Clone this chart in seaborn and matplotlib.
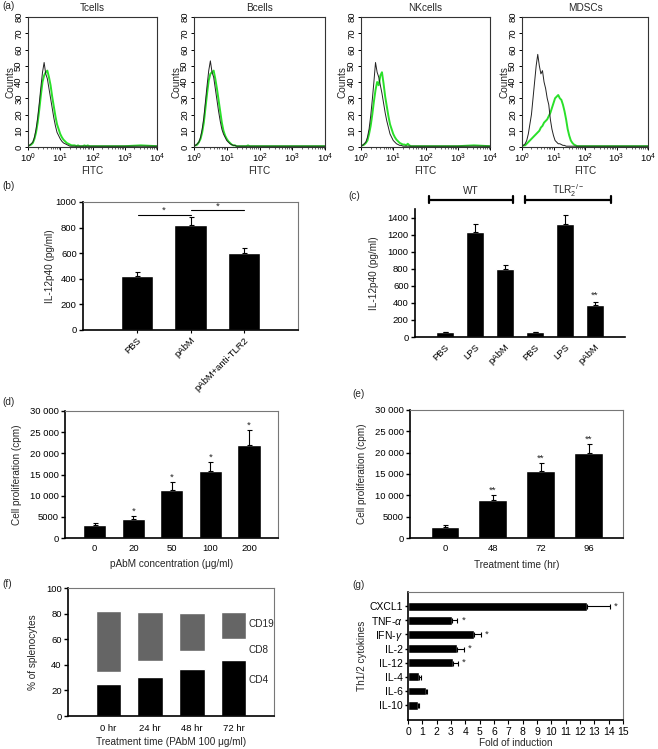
import numpy as np
import pandas as pd
import matplotlib
matplotlib.use("Agg")
import matplotlib.pyplot as plt
import seaborn as sns
from matplotlib.ticker import LogLocator, NullFormatter, FuncFormatter

sns.set_theme(style="white")
plt.rcParams["font.family"] = ["Liberation Sans", "DejaVu Sans"]
plt.rcParams["mathtext.fontset"] = "custom"
plt.rcParams["mathtext.rm"] = "Liberation Sans"
plt.rcParams["mathtext.it"] = "Liberation Sans:italic"

# ---------------- data ----------------
# (a) flow cytometry histograms: log10(FITC) grid and counts
LOG_FITC = [0.00, 0.05, 0.10, 0.15, 0.20, 0.25, 0.30, 0.35, 0.40, 0.45,
            0.50, 0.55, 0.60, 0.65, 0.70, 0.75, 0.80, 0.85, 0.90, 0.95,
            1.00, 1.05, 1.10, 1.15, 1.20, 1.25, 1.30, 1.35, 1.40, 1.45,
            1.50, 1.55, 1.60, 1.65, 1.70, 1.75, 1.80, 1.85, 1.90, 1.95,
            2.00, 2.50, 3.00, 3.50, 4.00]
T_ISO = [1, 1, 2, 3, 6, 11, 18, 27, 37, 46,
         52, 45, 42, 36, 30, 24, 18, 13, 9, 7,
         5, 3.5, 2.5, 2, 1.5, 1, 0.5, 0.5, 0.5, 0.5,
         0.5, 0.5, 0.5, 0.5, 0.5, 0.5, 0.5, 0.5, 0.5, 0.5,
         0.5, 0.5, 0.5, 0.5, 0.5]
T_AB = [1, 1, 1.5, 2.5, 5, 9, 15, 23, 32, 40,
        44, 46, 47, 43, 38, 31, 25, 19, 14, 11,
        8, 6, 4.5, 3.5, 2.5, 2, 1.5, 1, 1, 1,
        0.5, 1, 0.5, 0.5, 0.5, 1, 0.5, 1, 0.5, 0.5,
        0.5, 0.5, 0.5, 1, 0.5]
B_ISO = [1, 1, 2, 3, 6, 11, 18, 28, 38, 47,
         53, 46, 43, 36, 29, 22, 16, 11, 8, 6,
         4, 3, 2, 1.5, 1, 1, 0.5, 0.5, 0.5, 0.5,
         0.5, 0.5, 0.5, 0.5, 0.5, 0.5, 0.5, 0.5, 0.5, 0.5,
         0.5, 0.5, 0.5, 0.5, 0.5]
B_AB = [1, 1, 1.5, 3, 5, 9, 15, 24, 33, 41,
        45, 46, 47, 42, 36, 29, 22, 15, 10, 7,
        5, 3.5, 2.5, 1.5, 1, 1, 0.5, 0.5, 0.5, 0.5,
        0.5, 0.5, 0.5, 1, 0.5, 0.5, 0.5, 0.5, 0.5, 0.5,
        0.5, 0.5, 0.5, 0.5, 0.5]
NK_ISO = [1, 1, 2, 3, 6, 11, 19, 29, 40, 52,
          46, 43, 38, 33, 27, 21, 16, 12, 8, 6,
          4, 3, 2, 1.5, 1, 1, 0.5, 0.5, 0.5, 0.5,
          0.5, 0.5, 0.5, 0.5, 0.5, 0.5, 0.5, 0.5, 0.5, 0.5,
          0.5, 0.5, 0.5, 0.5, 0.5]
NK_AB = [1, 1, 1.5, 2.5, 4, 8, 13, 20, 28, 35,
         40, 38, 44, 46, 39, 31, 25, 19, 14, 11,
         8, 6, 4.5, 3.5, 2.5, 2, 1.5, 1.5, 1, 2,
         1, 0.5, 0.5, 0.5, 0.5, 0.5, 0.5, 0.5, 0.5, 0.5,
         0.5, 0.5, 0.5, 1, 0.5]
M_ISO = [1, 1, 2, 4, 8, 14, 20, 30, 40, 50,
         57, 50, 45, 47, 40, 36, 30, 26, 17, 11,
         7, 4, 3, 2, 2, 1.5, 1, 1, 0.5, 0.5,
         0.5, 0.5, 0.5, 0.5, 0.5, 0.5, 0.5, 0.5, 0.5, 0.5,
         0.5, 0.5, 0.5, 0.5, 0.5]
M_AB = [0.5, 1, 1, 2, 3, 4, 5, 6, 7, 8,
        9, 10, 12, 13, 15, 16, 17, 19, 21, 24,
        27, 30, 31, 32, 30, 29, 26, 22, 17, 11,
        7, 4, 2.5, 1.5, 1, 0.5, 0.5, 0.5, 0.5, 0.5,
        0.5, 0.5, 0.5, 0.5, 0.5]
FLOW_TITLES = ["Tcells", "Bcells", "NKcells", "MDSCs"]

# (b)
B_CATS = ["PBS", "pAbM", "pAbM+anti-TLR2"]
B_VALS = [424, 820, 599]
B_ERR = [26, 60, 39]

# (c)
C_GROUP = ["WT", "WT", "WT", "TLR2", "TLR2", "TLR2"]
C_LABELS = ["PBS", "LPS", "pAbM", "PBS", "LPS", "pAbM"]
C_VALS = [58, 1232, 797, 53, 1330, 377]
C_ERR = [5, 98, 47, 4, 94, 38]
C_SIG = ["", "", "", "", "", "**"]

# (d)
D_CATS = ["0", "20", "50", "100", "200"]
D_VALS = [3100, 4600, 11300, 15900, 22000]
D_ERR = [400, 640, 2000, 2100, 3460]
D_SIG = ["", "*", "*", "*", "*"]

# (e)
E_CATS = ["0", "48", "72", "96"]
E_VALS = [2580, 9000, 15600, 19900]
E_ERR = [390, 1130, 1950, 2150]
E_SIG = ["", "**", "**", "**"]

# (f)
F_CATS = ["0 hr", "24 hr", "48 hr", "72 hr"]
F_CD4 = [24.7, 30.5, 37.0, 43.5]
F_CD8 = [9.9, 12.2, 13.8, 16.4]
F_CD19 = [47.4, 38.8, 29.9, 21.6]

# (g)
G_CATS = ["CXCL1", r"TNF-$\alpha$", r"IFN-$\gamma$", "IL-2", "IL-12", "IL-4", "IL-6", "IL-10"]
G_VALS = [12.5, 3.1, 4.6, 3.45, 3.15, 0.8, 1.25, 0.68]
G_ERR = [1.57, 0.35, 0.5, 0.45, 0.35, 0.08, 0.1, 0.07]
G_SIG = ["*", "*", "*", "*", "*", "", "", ""]

# ---------------- figure ----------------
W, H = 658, 749
fig = plt.figure(figsize=(W / 100, H / 100), dpi=100)
FS = 6.8
LFS = 7.2


def axpx(l, t, r, b):
    return fig.add_axes([l / W, 1 - b / H, (r - l) / W, (b - t) / H])


def set_ylab(ax, text, xpx, ypx=None):
    ax.set_ylabel(text, fontsize=LFS)
    ax.yaxis.label.set_verticalalignment("center")
    bb = ax.get_position()
    yc = (bb.y0 + bb.y1) / 2 if ypx is None else 1 - ypx / H
    ax.yaxis.set_label_coords(xpx / W, yc, transform=fig.transFigure)


def set_xlab(ax, text, ypx, xpx=None):
    ax.set_xlabel(text, fontsize=LFS)
    ax.xaxis.label.set_verticalalignment("center")
    bb = ax.get_position()
    xc = (bb.x0 + bb.x1) / 2 if xpx is None else xpx / W
    ax.xaxis.set_label_coords(xc, 1 - ypx / H, transform=fig.transFigure)


def style_bar_axes(ax, box=True, xticks=True):
    for s in ["left", "bottom"]:
        ax.spines[s].set_color("black")
        ax.spines[s].set_linewidth(1.2)
    for s in ["top", "right"]:
        if box:
            ax.spines[s].set_color("#777777")
            ax.spines[s].set_linewidth(0.8)
        else:
            ax.spines[s].set_visible(False)
    ax.tick_params(axis="y", left=True, direction="out", length=3, width=1,
                   labelsize=FS, pad=1.5, colors="black")
    ax.tick_params(axis="x", bottom=xticks, direction="out", length=2, width=0.8,
                   labelsize=FS, pad=2, colors="black")


def upper_err(ax, xs, vals, errs, horizontal=False):
    zeros = np.zeros(len(vals))
    if horizontal:
        ax.errorbar(vals, xs, xerr=[zeros, errs], fmt="none", ecolor="black",
                    elinewidth=0.8, capsize=1.8, capthick=0.8)
    else:
        ax.errorbar(xs, vals, yerr=[zeros, errs], fmt="none", ecolor="black",
                    elinewidth=0.8, capsize=1.8, capthick=0.8)


# ---- (a) ----
flow_iso = [T_ISO, B_ISO, NK_ISO, M_ISO]
flow_ab = [T_AB, B_AB, NK_AB, M_AB]
flow_pos = [(28, 17, 157, 147), (194, 17, 325, 147), (361, 17, 490, 147), (522, 17, 648, 147)]
fitc = 10 ** np.array(LOG_FITC)
for title, iso, ab, pos in zip(FLOW_TITLES, flow_iso, flow_ab, flow_pos):
    ax = axpx(*pos)
    sns.lineplot(x=fitc, y=ab, ax=ax, color="#2ae02a", linewidth=1.4)
    sns.lineplot(x=fitc, y=iso, ax=ax, color="#222222", linewidth=0.7)
    ax.set_xscale("log")
    ax.set_xlim(1, 1e4)
    ax.set_ylim(0, 80)
    ax.set_yticks(range(0, 81, 10))
    ax.set_yticklabels([str(v) for v in range(0, 81, 10)], rotation=90, va="center")
    ax.xaxis.set_major_locator(LogLocator(base=10, numticks=10))
    ax.xaxis.set_minor_locator(LogLocator(base=10, subs=np.arange(2, 10), numticks=20))
    ax.xaxis.set_minor_formatter(NullFormatter())
    for s in ax.spines.values():
        s.set_color("#333333")
        s.set_linewidth(0.8)
    ax.tick_params(axis="both", which="major", direction="out", length=2.5, width=0.7,
                   labelsize=FS, pad=1.0, left=True, bottom=True, colors="black")
    ax.tick_params(axis="x", which="minor", direction="out", length=1.5, width=0.5,
                   bottom=True)
    ax.set_title(title, fontsize=LFS, pad=4)
    set_xlab(ax, "FITC", 171)
    set_ylab(ax, "Counts", pos[0] - 18)

# ---- (b) ----
ax = axpx(83, 202, 298, 330)
sns.barplot(x=B_CATS, y=B_VALS, ax=ax, color="black", saturation=1, width=0.6,
            errorbar=None)
upper_err(ax, range(len(B_VALS)), B_VALS, B_ERR)
ax.set_xlim(-1, 3)
ax.set_ylim(0, 1000)
ax.set_yticks(range(0, 1001, 200))
style_bar_axes(ax)
ax.set_xticks(range(len(B_CATS)))
ax.set_xticklabels(B_CATS, rotation=45, ha="right", rotation_mode="anchor")
ax.plot([0.02, 1.0], [898, 898], color="black", lw=0.8)
ax.plot([1.0, 2.0], [935, 935], color="black", lw=0.8)
ax.text(0.5, 935, "*", ha="center", va="center", fontsize=FS)
ax.text(1.5, 968, "*", ha="center", va="center", fontsize=FS)
set_ylab(ax, "IL-12p40 (pg/ml)", 50)

# ---- (c) ----
ax = axpx(415, 209, 625, 337)
c_keys = [g + " " + l for g, l in zip(C_GROUP, C_LABELS)]
sns.barplot(x=c_keys, y=C_VALS, ax=ax, color="black", saturation=1, width=0.63,
            errorbar=None)
upper_err(ax, range(len(C_VALS)), C_VALS, C_ERR)
for i, (v, e, s) in enumerate(zip(C_VALS, C_ERR, C_SIG)):
    if s:
        ax.text(i, v + e + 70, s, ha="center", va="center", fontsize=FS)
ax.set_xlim(-1, 6)
ax.set_ylim(0, 1500)
ax.set_yticks(range(0, 1401, 200))
style_bar_axes(ax, box=False, xticks=False)
ax.set_xticks(range(len(C_LABELS)))
ax.set_xticklabels(C_LABELS, rotation=45, ha="right", rotation_mode="anchor")
for x0, x1, lab in [(-0.55, 2.25, "WT"), (2.68, 5.53, r"TLR$_2^{-/-}$")]:
    ax.plot([x0, x1], [1610, 1610], color="black", lw=1.6, clip_on=False)
    for xe in (x0, x1):
        ax.plot([xe, xe], [1570, 1650], color="black", lw=1.6, clip_on=False)
    ax.text((x0 + x1) / 2, 1715, lab, ha="center", va="center", fontsize=LFS,
            clip_on=False)
set_ylab(ax, "IL-12p40 (pg/ml)", 374)

# ---- (d) ----
thousands = FuncFormatter(lambda v, p: (f"{int(v):,}".replace(",", " ") if v >= 10000 else f"{int(v)}"))
ax = axpx(65, 411, 278, 538)
sns.barplot(x=D_CATS, y=D_VALS, ax=ax, color="black", saturation=1, width=0.6,
            errorbar=None)
upper_err(ax, range(len(D_VALS)), D_VALS, D_ERR)
for i, (v, e, s) in enumerate(zip(D_VALS, D_ERR, D_SIG)):
    if s:
        ax.text(i, v + e + 1100, s, ha="center", va="center", fontsize=FS)
ax.set_xlim(-0.77, 4.75)
ax.set_ylim(0, 30000)
ax.set_yticks(range(0, 30001, 5000))
ax.yaxis.set_major_formatter(thousands)
style_bar_axes(ax, xticks=False)
set_ylab(ax, "Cell proliferation (cpm)", 17)
set_xlab(ax, "pAbM concentration (\u03bcg/ml)", 564)

# ---- (e) ----
ax = axpx(410, 410, 623, 538)
sns.barplot(x=E_CATS, y=E_VALS, ax=ax, color="black", saturation=1, width=0.6,
            errorbar=None)
upper_err(ax, range(len(E_VALS)), E_VALS, E_ERR)
for i, (v, e, s) in enumerate(zip(E_VALS, E_ERR, E_SIG)):
    if s:
        ax.text(i, v + e + 1100, s, ha="center", va="center", fontsize=FS)
ax.set_xlim(-0.73, 3.72)
ax.set_ylim(0, 30000)
ax.set_yticks(range(0, 30001, 5000))
ax.yaxis.set_major_formatter(thousands)
style_bar_axes(ax, xticks=False)
set_ylab(ax, "Cell proliferation (cpm)", 362)
set_xlab(ax, "Treatment time (hr)", 565)

# ---- (f) ----
ax = axpx(68, 588, 274, 716)
cd4 = np.array(F_CD4)
cd8_top = cd4 + np.array(F_CD8)
cd19_top = cd8_top + np.array(F_CD19)
sns.barplot(x=F_CATS, y=cd19_top, ax=ax, color="#656565", saturation=1, width=0.61,
            errorbar=None)
sns.barplot(x=F_CATS, y=cd8_top, ax=ax, color="white", saturation=1, width=0.61,
            errorbar=None)
sns.barplot(x=F_CATS, y=cd4, ax=ax, color="black", saturation=1, width=0.61,
            errorbar=None)
last = len(F_CATS) - 1
ax.text(last + 0.37, (cd8_top[last] + cd19_top[last]) / 2 + 1.5, "CD19", ha="left",
        va="center", fontsize=LFS)
ax.text(last + 0.37, (cd4[last] + cd8_top[last]) / 2, "CD8", ha="left", va="center",
        fontsize=LFS)
ax.text(last + 0.37, 28, "CD4", ha="left", va="center", fontsize=LFS)
ax.set_xlim(-0.97, 3.97)
ax.set_ylim(0, 100)
ax.set_yticks(range(0, 101, 20))
style_bar_axes(ax, xticks=False)
ax.tick_params(axis="x", pad=4)
set_ylab(ax, "% of splenocytes", 33)
set_xlab(ax, "Treatment time (PAbM 100 \u03bcg/ml)", 742)

# ---- (g) ----
ax = axpx(408, 592, 623, 720)
sns.barplot(x=G_VALS, y=G_CATS, ax=ax, color="black", saturation=1, width=0.62,
            errorbar=None, orient="h")
upper_err(ax, range(len(G_VALS)), G_VALS, G_ERR, horizontal=True)
for i, (v, e, s) in enumerate(zip(G_VALS, G_ERR, G_SIG)):
    if s:
        ax.text(v + e + 0.4, i, s, ha="center", va="center", fontsize=FS)
ax.set_xlim(0, 15)
ax.set_xticks(range(0, 16))
ax.set_ylim(8.05, -1.0)
style_bar_axes(ax)
ax.tick_params(axis="y", length=2, labelsize=7.5)
ax.tick_params(axis="x", length=3, pad=2, labelsize=7.5)
set_ylab(ax, "Th1/2 cytokines", 362)
set_xlab(ax, "Fold of induction", 743)

# panel letters
for lab, x, y in [("(a)", 2, 6), ("(b)", 2, 186), ("(c)", 348, 196), ("(d)", 2, 402),
                  ("(e)", 352, 394), ("(f)", 2, 584), ("(g)", 352, 585)]:
    fig.text(x / W, 1 - y / H, lab, fontsize=LFS, ha="left", va="center")

fig.savefig("out.png", dpi=100)
